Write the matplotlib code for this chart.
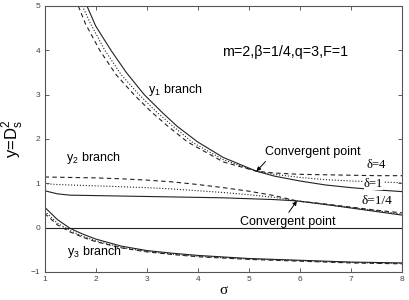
"""plot.py
branches of y = D_s^2 against sigma for three delta values
"""
import matplotlib
matplotlib.use("Agg")
import matplotlib.pyplot as plt

plt.rcParams['font.family'] = ['Liberation Sans', 'DejaVu Sans']

# y1 branch (upper, falling)
y1_x_solid = [1.83, 2.0, 2.3, 2.6, 2.95, 3.3, 3.6, 4.0, 4.5, 5.15, 5.5, 6.0, 6.5, 7.0, 7.5, 8.0]
y1_solid = [5.0, 4.55, 4.0, 3.5, 3.0, 2.6, 2.28, 1.93, 1.58, 1.27, 1.16, 1.05, 0.96, 0.9, 0.85, 0.81]
y1_x_dot = [1.74, 1.9, 2.18, 2.5, 2.85, 3.2, 3.5, 3.9, 4.5, 5.15, 5.5, 6.0, 6.5, 7.0, 7.5, 8.0]
y1_dot = [5.0, 4.6, 4.0, 3.45, 3.0, 2.6, 2.3, 1.92, 1.53, 1.27, 1.2, 1.13, 1.08, 1.05, 1.03, 1.01]
y1_x_dash = [1.66, 1.8, 2.08, 2.4, 2.75, 3.1, 3.4, 3.8, 4.5, 5.15, 5.5, 6.0, 6.5, 7.0, 7.5, 8.0]
y1_dash = [5.0, 4.6, 4.0, 3.45, 3.0, 2.6, 2.3, 1.93, 1.48, 1.27, 1.23, 1.2, 1.19, 1.18, 1.17, 1.17]

# y2 branch (middle)
y2_x = [1.0, 1.25, 1.5, 2.0, 2.5, 3.0, 3.5, 4.0, 4.5, 5.0, 5.5, 5.94, 6.5, 7.0, 7.5, 8.0]
y2_solid = [0.83, 0.76, 0.73, 0.72, 0.71, 0.70, 0.69, 0.68, 0.67, 0.65, 0.63, 0.6, 0.52, 0.44, 0.36, 0.28]
y2_dot = [0.99, 0.97, 0.96, 0.94, 0.92, 0.9, 0.87, 0.83, 0.79, 0.74, 0.68, 0.6, 0.52, 0.45, 0.38, 0.3]
y2_dash = [1.14, 1.135, 1.13, 1.12, 1.1, 1.07, 1.03, 0.97, 0.9, 0.82, 0.72, 0.6, 0.53, 0.46, 0.39, 0.33]

# y3 branch (lower)
y3_x = [1.0, 1.25, 1.5, 1.75, 2.0, 2.5, 3.0, 3.5, 4.0, 5.0, 6.0, 7.0, 8.0]
y3_solid = [0.46, 0.18, -0.02, -0.15, -0.26, -0.42, -0.52, -0.58, -0.63, -0.7, -0.74, -0.78, -0.8]
y3_dot = [0.37, 0.1, -0.07, -0.2, -0.3, -0.45, -0.54, -0.6, -0.65, -0.71, -0.75, -0.79, -0.81]
y3_dash = [0.32, 0.06, -0.1, -0.22, -0.32, -0.46, -0.55, -0.61, -0.66, -0.72, -0.76, -0.8, -0.82]

x_ticks = [1, 2, 3, 4, 5, 6, 7, 8]
y_ticks = [-1, 0, 1, 2, 3, 4, 5]


def main():
    fig = plt.figure(figsize=(4.09, 3.0), dpi=100)
    ax = fig.add_axes([0.109, 0.094, 0.874, 0.886])

    lc = '#222222'
    lw = 0.8
    ax.plot(y1_x_solid, y1_solid, '-', color=lc, lw=lw)
    ax.plot(y1_x_dot, y1_dot, ':', color=lc, lw=lw)
    ax.plot(y1_x_dash, y1_dash, '--', color=lc, lw=lw, dashes=(4, 3))
    ax.plot(y2_x, y2_solid, '-', color=lc, lw=lw)
    ax.plot(y2_x, y2_dot, ':', color=lc, lw=lw)
    ax.plot(y2_x, y2_dash, '--', color=lc, lw=lw, dashes=(4, 3))
    ax.plot(y3_x, y3_solid, '-', color=lc, lw=lw)
    ax.plot(y3_x, y3_dot, ':', color=lc, lw=lw)
    ax.plot(y3_x, y3_dash, '--', color=lc, lw=lw, dashes=(4, 3))
    ax.axhline(0, color=lc, lw=lw)

    ax.set_xlim(1, 8)
    ax.set_ylim(-1, 5)
    ax.set_xticks(x_ticks)
    ax.set_yticks(y_ticks)
    ax.tick_params(direction='in', length=3, width=0.6, labelsize=6,
                   top=True, right=True, colors='#444444', pad=3)
    for s in ax.spines.values():
        s.set_linewidth(0.8)
        s.set_color('#555555')

    ax.set_xlabel('σ', fontsize=11, family='Liberation Serif', labelpad=1)
    ax.set_ylabel(r'y=D$_\mathregular{s}^\mathregular{2}$', fontsize=12, labelpad=4)

    ax.text(4.47, 3.96, 'm=2,β=1/4,q=3,F=1', fontsize=10.3, va='center')
    ax.text(3.02, 3.1, r'y$_\mathregular{1}$ branch', fontsize=9, va='center')
    ax.text(1.41, 1.57, r'y$_\mathregular{2}$ branch', fontsize=9, va='center')
    ax.text(1.44, -0.56, r'y$_\mathregular{3}$ branch', fontsize=9, va='center')

    ax.annotate('Convergent point', xy=(5.15, 1.27), xytext=(5.32, 1.71),
                fontsize=9, ha='left', va='center',
                arrowprops=dict(arrowstyle='-|>', color='black', lw=0.7,
                                shrinkA=1, shrinkB=0, mutation_scale=6,
                                relpos=(0.04, 0.0)))
    ax.annotate('Convergent point', xy=(5.94, 0.6), xytext=(4.83, 0.12),
                fontsize=9, ha='left', va='center',
                arrowprops=dict(arrowstyle='-|>', color='black', lw=0.7,
                                shrinkA=1, shrinkB=0, mutation_scale=6,
                                relpos=(0.48, 1.0)))

    ax.text(7.3, 1.4, 'δ=4', fontsize=9, family='Liberation Serif', va='center')
    ax.text(7.25, 0.98, 'δ=1', fontsize=9, family='Liberation Serif', va='center',
            bbox=dict(facecolor='white', edgecolor='none', pad=0))
    ax.text(7.2, 0.6, 'δ=1/4', fontsize=9.5, family='Liberation Serif', va='center')

    fig.savefig('out.png', dpi=100)


if __name__ == "__main__":
    main()
